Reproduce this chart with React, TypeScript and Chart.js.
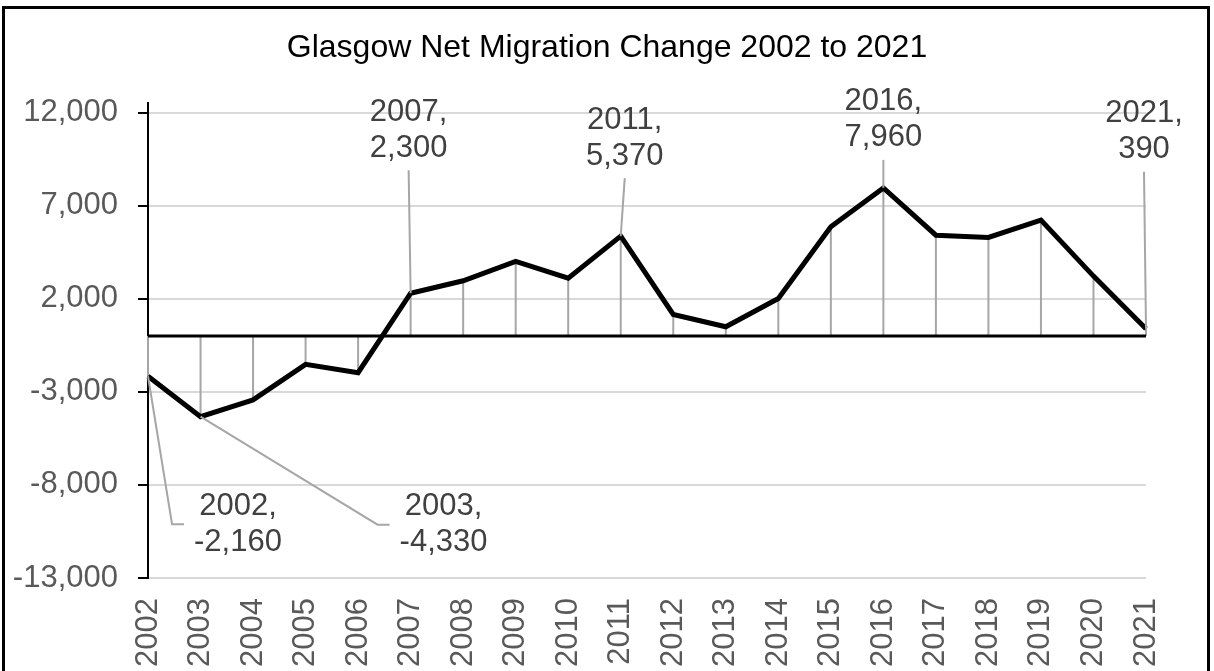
import React, { useEffect, useRef } from "react";
import { Chart, registerables } from "chart.js";

Chart.register(...registerables);

const TITLE = "Glasgow Net Migration Change 2002 to 2021";
const YEARS = [
  "2002", "2003", "2004", "2005", "2006", "2007", "2008", "2009", "2010", "2011",
  "2012", "2013", "2014", "2015", "2016", "2017", "2018", "2019", "2020", "2021",
];
const NET_MIGRATION = [
  -2160, -4330, -3430, -1520, -1970, 2300, 2970, 4010, 3110, 5370,
  1160, 500, 2020, 5870, 7960, 5420, 5300, 6230, 3220, 390,
];
const Y_TICKS = [-13000, -8000, -3000, 2000, 7000, 12000];
const Y_MIN = -13000;
const Y_MAX = 12500;
const LABELLED_YEARS = ["2002", "2003", "2007", "2011", "2016", "2021"];

// label placement (pixel offsets of label block centre from its point)
const LABEL_PLACEMENT: Record<string, { dx: number; dy: number; leader: "elbow" | "straight" }> = {
  "2002": { dx: 90, dy: 148, leader: "elbow" },
  "2003": { dx: 243, dy: 108, leader: "elbow" },
  "2007": { dx: -2, dy: -163, leader: "straight" },
  "2011": { dx: 4, dy: -98, leader: "straight" },
  "2016": { dx: 0, dy: -68, leader: "straight" },
  "2021": { dx: -2, dy: -197, leader: "straight" },
};

const FONT = '"Liberation Sans", Arial, sans-serif';
const fmt = (v: number) => Number(v).toLocaleString("en-US");

const annotPlugin = {
  id: "annot",
  beforeDatasetsDraw(chart: any) {
    const { ctx, chartArea, scales } = chart;
    const y0 = scales.y.getPixelForValue(0);
    const meta = chart.getDatasetMeta(0);
    ctx.save();
    ctx.strokeStyle = "#a6a6a6";
    ctx.lineWidth = 2;
    meta.data.forEach((pt: any) => {
      ctx.beginPath();
      ctx.moveTo(pt.x, y0);
      ctx.lineTo(pt.x, pt.y);
      ctx.stroke();
    });
    ctx.strokeStyle = "#000";
    ctx.lineWidth = 3;
    ctx.beginPath();
    ctx.moveTo(chartArea.left, y0);
    ctx.lineTo(chartArea.right, y0);
    ctx.stroke();
    ctx.restore();
  },
  afterDatasetsDraw(chart: any) {
    const { ctx } = chart;
    const meta = chart.getDatasetMeta(0);
    ctx.save();
    ctx.font = `31px ${FONT}`;
    ctx.textAlign = "center";
    ctx.textBaseline = "middle";
    LABELLED_YEARS.forEach((year) => {
      const i = YEARS.indexOf(year);
      const pt = meta.data[i];
      const place = LABEL_PLACEMENT[year];
      const cx = pt.x + place.dx;
      const cy = pt.y + place.dy;
      const l1 = `${year},`;
      const l2 = fmt(NET_MIGRATION[i]);
      const w = Math.max(ctx.measureText(l1).width, ctx.measureText(l2).width);
      ctx.strokeStyle = "#a6a6a6";
      ctx.lineWidth = 2;
      ctx.beginPath();
      ctx.moveTo(pt.x, pt.y);
      if (place.leader === "elbow") {
        const left = cx - w / 2;
        ctx.lineTo(left - 22, cy);
        ctx.lineTo(left - 10, cy);
      } else {
        ctx.lineTo(cx, cy + 40);
      }
      ctx.stroke();
      ctx.fillStyle = "#404040";
      ctx.fillText(l1, cx, cy - 18);
      ctx.fillText(l2, cx, cy + 18);
    });
    ctx.restore();
  },
  afterDraw(chart: any) {
    const { ctx } = chart;
    ctx.save();
    ctx.strokeStyle = "#000";
    ctx.lineWidth = 3;
    ctx.strokeRect(3.5, 7.5, 1205, 720);
    ctx.restore();
  },
};

export default function App() {
  const ref = useRef<HTMLCanvasElement | null>(null);
  useEffect(() => {
    if (!ref.current) return;
    const chart = new Chart(ref.current, {
      type: "line",
      data: {
        labels: YEARS,
        datasets: [
          {
            data: NET_MIGRATION,
            borderColor: "#000",
            borderWidth: 5,
            pointRadius: 0,
            tension: 0,
            fill: false,
          },
        ],
      },
      options: {
        animation: false,
        responsive: false,
        devicePixelRatio: 1,
        layout: { padding: { left: 0, right: 0, top: 9, bottom: 0 } },
        plugins: {
          legend: { display: false },
          tooltip: { enabled: false },
          title: {
            display: true,
            text: TITLE,
            color: "#000",
            font: { family: FONT, size: 32, weight: "normal" },
            padding: { top: 20, bottom: 36 },
          },
        },
        scales: {
          x: {
            type: "category",
            offset: false,
            grid: { display: false, drawTicks: false },
            border: { display: false },
            ticks: {
              autoSkip: false,
              maxRotation: 90,
              minRotation: 90,
              color: "#595959",
              font: { family: FONT, size: 31 },
              padding: 20,
            },
            afterFit(scale: any) {
              scale.height = 93;
              scale.paddingLeft = 0;
              scale.paddingRight = 0;
            },
          },
          y: {
            min: Y_MIN,
            max: Y_MAX,
            afterBuildTicks(scale: any) {
              scale.ticks = Y_TICKS.map((v) => ({ value: v }));
            },
            afterFit(scale: any) {
              scale.width = 148;
              scale.paddingTop = 0;
              scale.paddingBottom = 0;
            },
            grid: { color: "#d9d9d9", lineWidth: 2, tickColor: "#000", tickWidth: 2, tickLength: 10 },
            border: { display: true, color: "#000", width: 2 },
            ticks: {
              color: "#595959",
              font: { family: FONT, size: 31 },
              padding: 20,
              callback: (v: any) => fmt(v),
            },
          },
          yRightSpace: {
            position: "right",
            display: true,
            grid: { display: false, drawTicks: false },
            border: { display: false },
            ticks: { display: false },
            afterFit(scale: any) {
              scale.width = 68;
              scale.paddingTop = 0;
              scale.paddingBottom = 0;
            },
          },
        },
      },
      plugins: [annotPlugin],
    } as any);
    return () => chart.destroy();
  }, []);
  return (
    <div style={{ position: "absolute", left: 0, top: 0, width: 1214, height: 671, overflow: "hidden", background: "#fff" }}>
      <canvas ref={ref} width={1214} height={671} style={{ display: "block", width: 1214, height: 671 }} />
    </div>
  );
}
